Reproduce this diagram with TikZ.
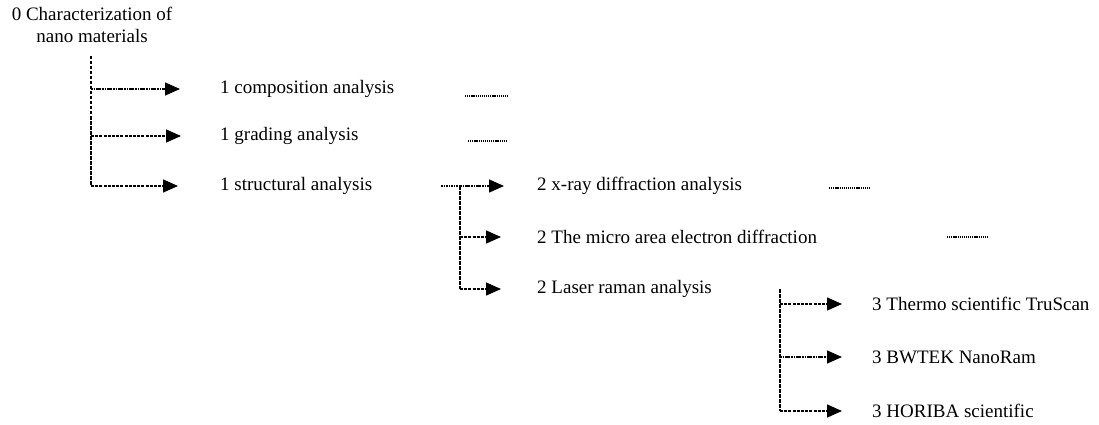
\documentclass[tikz,border=0pt]{standalone}
\usepackage{fontspec}
\setmainfont{Liberation Serif}
\usetikzlibrary{arrows.meta}
\begin{document}
\begin{tikzpicture}[x=1pt,y=-1pt,
  txt/.style={inner sep=0pt,font=\fontsize{19}{22}\selectfont},
  lbl/.style={txt,anchor=west},
  vline/.style={line width=1.6pt,dash pattern=on 3.5pt off 1.5pt},
  arr/.style={line width=1.5pt,dash pattern=on 3pt off 1.2pt,-{Triangle[length=15pt,width=13pt]}},
  arrdd/.style={line width=1.5pt,dash pattern=on 1.5pt off 1pt on 1.5pt off 1pt on 4.5pt off 1.5pt,-{Triangle[length=15pt,width=13pt]}},
  lead/.style={line width=1.3pt,dash pattern=on 1.2pt off 0.9pt}]
\useasboundingbox (0,0) rectangle (1099,425);
% texts
\node[txt,align=center] (root) at (92,25) {0 Characterization of\\nano materials};
\node[lbl] (c1) at (220,89) {1 composition analysis};
\node[lbl] (c2) at (220,136) {1 grading analysis};
\node[lbl] (c3) at (220,186) {1 structural analysis};
\node[lbl] (s1) at (537,186) {2 x-ray diffraction analysis};
\node[lbl] (s2) at (537,237) {2 The micro area electron diffraction};
\node[lbl] (s3) at (537,289) {2 Laser raman analysis};
\node[lbl] (t1) at (872,304) {3 Thermo scientific TruScan};
\node[lbl] (t2) at (872,357) {3 BWTEK NanoRam};
\node[lbl] (t3) at (872,411) {3 HORIBA scientific};
% level 1 connectors
\coordinate (a0) at (91,56);
\draw[vline] (a0) -- (a0 |- c3);
\draw[arrdd] (a0 |- c1) -- ([xshift=-40pt]c1.west);
\draw[arr] (a0 |- c2) -- ([xshift=-39pt]c2.west);
\draw[arr] (a0 |- c3) -- ([xshift=-42pt]c3.west);
% level 2 connectors
\coordinate (b0) at (441,186);
\coordinate (bj) at (460,186);
\draw[line width=1.5pt,dash pattern=on 1.5pt off 1pt] (b0) -- (bj);
\draw[vline] (bj) -- (bj |- s3);
\draw[arrdd] (bj) -- ([xshift=-33pt]s1.west);
\draw[arr] (bj |- s2) -- ([xshift=-36pt]s2.west);
\draw[arr] (bj |- s3) -- ([xshift=-36pt]s3.west);
% level 3 connectors
\coordinate (d0) at (780,289);
\draw[vline] (d0) -- (d0 |- t3);
\draw[arr] (d0 |- t1) -- ([xshift=-30pt]t1.west);
\draw[arrdd] (d0 |- t2) -- ([xshift=-30pt]t2.west);
\draw[arr] (d0 |- t3) -- ([xshift=-30pt]t3.west);
% dotted leaders
\draw[lead] (465,96) -- (508,96);
\draw[lead] (468,141) -- (506,141);
\draw[lead] (829,188) -- (870,188);
\draw[lead] (947,237) -- (988,237);
\end{tikzpicture}
\end{document}
